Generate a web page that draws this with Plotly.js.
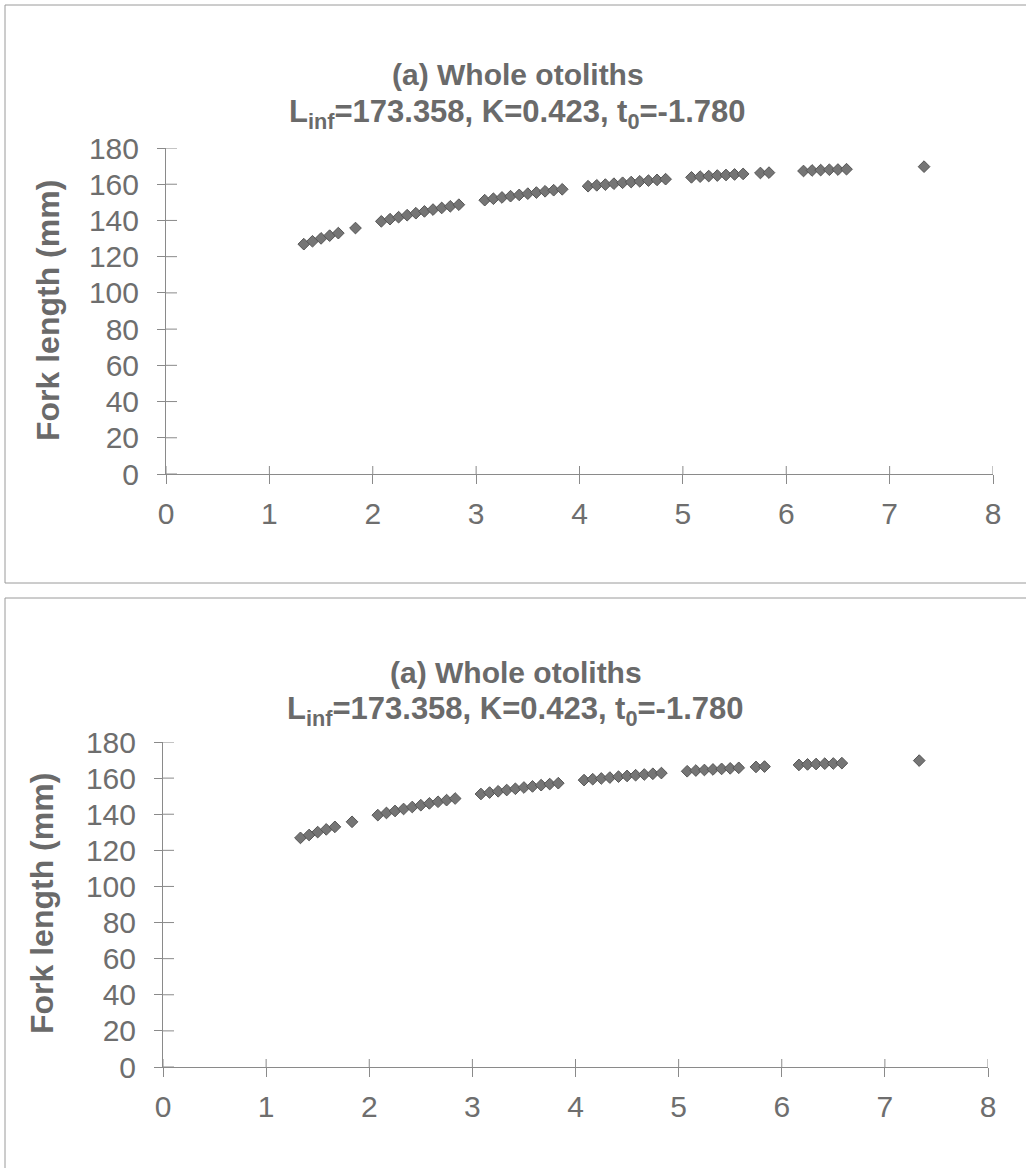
<!DOCTYPE html>
<html>
<head>
<meta charset="utf-8">
<script src="https://cdn.plot.ly/plotly-3.0.1.min.js"></script>
<style>
html,body{margin:0;padding:0;background:#fff;}
#chart{width:1026px;height:1168px;}
</style>
</head>
<body>
<div id="chart"></div>
<script>
// Age (years) and fork length (mm)
const ages = [
  1.333, 1.417, 1.5, 1.583, 1.667,
  1.833,
  2.083, 2.167, 2.25, 2.333, 2.417, 2.5, 2.583, 2.667, 2.75, 2.833,
  3.083, 3.167, 3.25, 3.333, 3.417, 3.5, 3.583, 3.667, 3.75, 3.833,
  4.083, 4.167, 4.25, 4.333, 4.417, 4.5, 4.583, 4.667, 4.75, 4.833,
  5.083, 5.167, 5.25, 5.333, 5.417, 5.5, 5.583,
  5.75, 5.833,
  6.167, 6.25, 6.333, 6.417, 6.5, 6.583,
  7.333
];
const forkLengths = [
  126.9, 128.5, 130.1, 131.6, 133.0,
  135.8,
  139.5, 140.7, 141.8, 142.9, 144.0, 145.0, 146.0, 146.9, 147.8, 148.7,
  151.2, 152.0, 152.7, 153.4, 154.1, 154.8, 155.4, 156.1, 156.7, 157.2,
  158.9, 159.4, 159.8, 160.3, 160.8, 161.2, 161.6, 162.0, 162.4, 162.8,
  163.8, 164.2, 164.5, 164.8, 165.1, 165.4, 165.7,
  166.2, 166.4,
  167.3, 167.6, 167.8, 168.0, 168.1, 168.3,
  169.7
];
const xTickVals = [0, 1, 2, 3, 4, 5, 6, 7, 8];
const yTickVals = [0, 20, 40, 60, 80, 100, 120, 140, 160, 180];
const titleLine1 = "(a) Whole otoliths";
const titleLine2 = "L<sub>inf</sub>=173.358, K=0.423, t<sub>0</sub>=-1.780";
const yTitle = "Fork length (mm)";

const W = 1026, H = 1168;
const px = v => v / W;
const py = v => 1 - v / H;

const FONT = "Liberation Sans, Arial, sans-serif";
const axisCol = "#8a8a8a";
const tickFontCol = "#6e6e6e";
const titleCol = "#6a6a6a";

const marker = {symbol: "diamond", size: 9, color: "#757575", line: {color: "#555555", width: 1}};

const traces = [
  {x: ages, y: forkLengths, type: "scatter", mode: "markers", marker: marker, xaxis: "x", yaxis: "y", hoverinfo: "x+y"},
  {x: ages, y: forkLengths, type: "scatter", mode: "markers", marker: marker, xaxis: "x2", yaxis: "y2", hoverinfo: "x+y"}
];

function xAxis(domain, anchor) {
  return {
    domain: domain, anchor: anchor, range: [0, 8], tickvals: xTickVals,
    showgrid: false, zeroline: false, showline: true, linecolor: axisCol, linewidth: 1,
    ticks: "outside", ticklen: 9, tickwidth: 1, tickcolor: axisCol,
    tickfont: {family: FONT, size: 30, color: tickFontCol}, ticklabelstandoff: 4
  };
}
function yAxis(domain, anchor) {
  return {
    domain: domain, anchor: anchor, range: [0, 180], tickvals: yTickVals,
    showgrid: false, zeroline: false, showline: true, linecolor: axisCol, linewidth: 1,
    ticks: "outside", ticklen: 8, tickwidth: 1, tickcolor: axisCol,
    tickfont: {family: FONT, size: 30, color: tickFontCol}, ticklabelstandoff: 12
  };
}

const xd1 = [px(166), px(993)], yd1 = [py(474), py(148)];
const xd2 = [px(163), px(988)], yd2 = [py(1067), py(742)];

// inner halves of the crossing tick marks, placed on the axes' own scales
function innerTicks(xa, ya, xdom, ydom) {
  const xLenPx = (xdom[1] - xdom[0]) * W, yLenPx = (ydom[1] - ydom[0]) * H;
  const out = [];
  xTickVals.forEach(v => out.push({type: "line", xref: xa, yref: ya + " domain",
    x0: v, x1: v, y0: 0, y1: 8 / yLenPx, line: {color: axisCol, width: 1}}));
  yTickVals.forEach(v => out.push({type: "line", xref: xa + " domain", yref: ya,
    x0: 0, x1: 11 / xLenPx, y0: v, y1: v, line: {color: axisCol, width: 1}}));
  return out;
}

function titleAnn(text, x, y, size) {
  return {text: "<b>" + text + "</b>", xref: "paper", yref: "paper", x: px(x), y: py(y),
    xanchor: "center", yanchor: "middle", showarrow: false, font: {family: FONT, size: size, color: titleCol}};
}
function yTitleAnn(x, y) {
  return {text: "<b>" + yTitle + "</b>", xref: "paper", yref: "paper", x: px(x), y: py(y),
    xanchor: "center", yanchor: "middle", textangle: -90, showarrow: false, font: {family: FONT, size: 32, color: titleCol}};
}

const layout = {
  width: W, height: H,
  margin: {l: 0, r: 0, t: 0, b: 0},
  paper_bgcolor: "#ffffff", plot_bgcolor: "rgba(0,0,0,0)",
  showlegend: false,
  xaxis: xAxis(xd1, "y"),
  yaxis: yAxis(yd1, "x"),
  xaxis2: xAxis(xd2, "y2"),
  yaxis2: yAxis(yd2, "x2"),
  shapes: [
    {type: "rect", xref: "paper", yref: "paper", x0: px(5), x1: 1.02, y0: py(583), y1: py(5),
     line: {color: "#9a9a9a", width: 1}},
    {type: "rect", xref: "paper", yref: "paper", x0: px(5), x1: 1.02, y0: -0.05, y1: py(598),
     line: {color: "#9a9a9a", width: 1}}
  ].concat(innerTicks("x", "y", xd1, yd1), innerTicks("x2", "y2", xd2, yd2)),
  annotations: [
    titleAnn(titleLine1, 518, 75, 30),
    titleAnn(titleLine2, 517, 114, 31),
    yTitleAnn(48, 311),
    titleAnn(titleLine1, 516, 672, 30),
    titleAnn(titleLine2, 515, 711, 31),
    yTitleAnn(42, 904)
  ]
};

Plotly.newPlot("chart", traces, layout, {displayModeBar: false, staticPlot: true});
</script>
</body>
</html>
